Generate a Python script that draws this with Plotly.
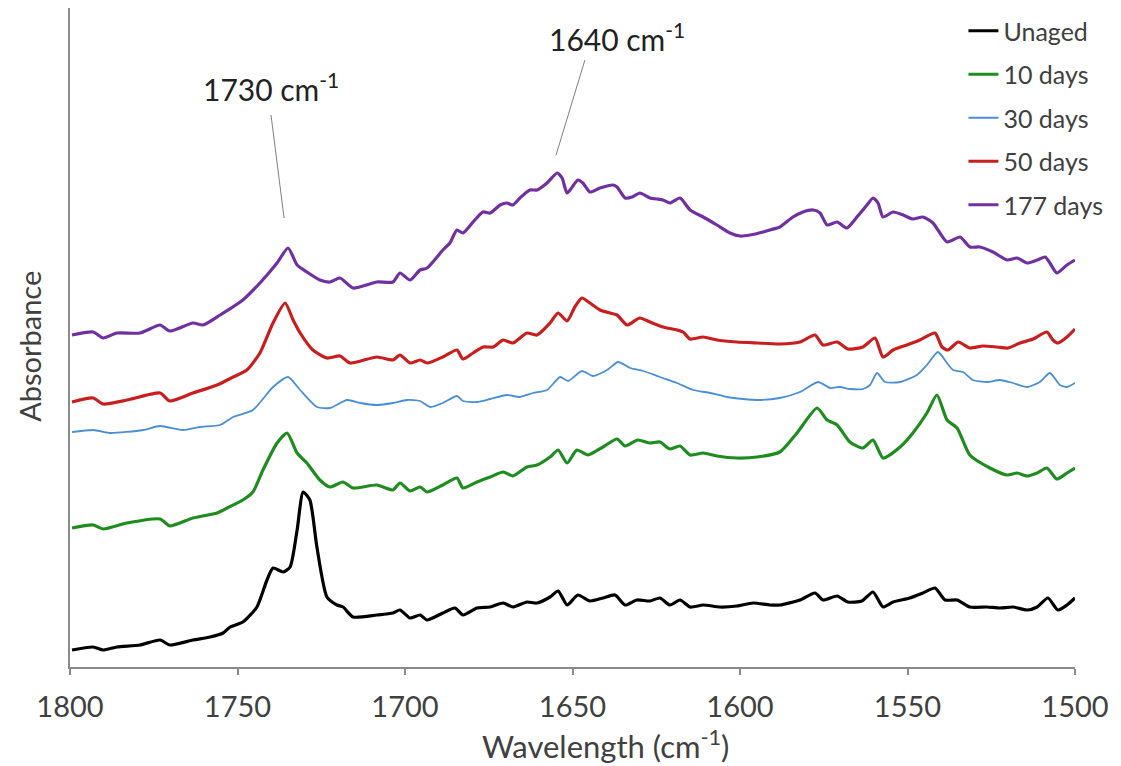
import plotly.graph_objects as go

# FTIR spectra, wavenumber (cm-1) vs absorbance (a.u., offset stacked)
wn_unaged = [1799.4, 1793.1, 1790.1, 1786.0, 1779.1, 1773.1, 1770.2, 1763.3, 1758.2, 1754.3,
             1752.2, 1748.4, 1744.2, 1741.2, 1739.4, 1736.4, 1734.3, 1732.2, 1730.4, 1728.4,
             1726.3, 1723.3, 1720.3, 1718.5, 1715.5, 1708.4, 1703.6, 1701.5, 1698.5, 1695.5,
             1693.4, 1688.7, 1685.1, 1682.7, 1678.5, 1674.6, 1670.7, 1667.8, 1663.6, 1660.6,
             1656.7, 1654.3, 1651.6, 1648.4, 1644.8, 1640.9, 1637.3, 1634.3, 1630.8, 1626.9,
             1623.9, 1620.9, 1617.9, 1614.9, 1611.0, 1606.0, 1600.9, 1596.1, 1591.1, 1588.1,
             1582.1, 1577.6, 1575.2, 1571.0, 1567.8, 1563.6, 1560.3, 1557.3, 1554.3, 1549.3,
             1545.4, 1541.8, 1538.8, 1535.2, 1531.4, 1526.3, 1522.4, 1518.5, 1514.3, 1511.3,
             1508.1, 1505.1, 1502.4, 1500.0]
abs_unaged = [0.017, 0.020, 0.017, 0.020, 0.022, 0.027, 0.022, 0.027, 0.030, 0.034,
              0.040, 0.045, 0.060, 0.087, 0.099, 0.095, 0.100, 0.137, 0.175, 0.167,
              0.120, 0.070, 0.062, 0.060, 0.050, 0.052, 0.054, 0.057, 0.049, 0.052,
              0.047, 0.054, 0.059, 0.052, 0.059, 0.060, 0.064, 0.060, 0.065, 0.064,
              0.070, 0.076, 0.062, 0.072, 0.066, 0.069, 0.072, 0.062, 0.067, 0.066,
              0.069, 0.062, 0.067, 0.060, 0.062, 0.060, 0.061, 0.064, 0.062, 0.062,
              0.067, 0.074, 0.067, 0.071, 0.065, 0.066, 0.075, 0.060, 0.065, 0.069,
              0.074, 0.079, 0.067, 0.067, 0.060, 0.060, 0.059, 0.060, 0.057, 0.060,
              0.069, 0.057, 0.062, 0.069]

wn_10d = [1799.4, 1793.1, 1790.1, 1783.0, 1773.1, 1770.2, 1763.3, 1756.1, 1753.1, 1748.4,
          1745.4, 1742.4, 1738.2, 1735.2, 1732.2, 1729.3, 1725.4, 1722.4, 1718.5, 1715.5,
          1708.4, 1703.6, 1701.5, 1698.5, 1695.5, 1693.4, 1688.7, 1684.5, 1682.7, 1678.5,
          1674.6, 1670.7, 1667.8, 1663.6, 1660.6, 1656.7, 1654.3, 1651.6, 1648.7, 1645.4,
          1640.9, 1636.7, 1634.3, 1630.5, 1626.9, 1623.9, 1620.9, 1617.9, 1614.9, 1611.0,
          1606.9, 1600.9, 1594.9, 1588.1, 1583.0, 1577.0, 1574.0, 1571.0, 1567.2, 1563.3,
          1560.3, 1557.3, 1552.2, 1548.4, 1544.2, 1541.2, 1538.2, 1535.2, 1531.4, 1525.4,
          1520.3, 1517.3, 1514.3, 1511.3, 1508.4, 1505.4, 1502.4, 1500.0]
abs_10d = [0.139, 0.142, 0.138, 0.144, 0.148, 0.141, 0.149, 0.154, 0.159, 0.167,
           0.175, 0.197, 0.224, 0.234, 0.214, 0.204, 0.187, 0.180, 0.185, 0.179,
           0.182, 0.177, 0.184, 0.176, 0.180, 0.175, 0.182, 0.189, 0.179, 0.185,
           0.190, 0.195, 0.191, 0.200, 0.202, 0.210, 0.217, 0.204, 0.217, 0.212,
           0.220, 0.228, 0.221, 0.227, 0.224, 0.225, 0.218, 0.221, 0.212, 0.214,
           0.211, 0.209, 0.210, 0.215, 0.234, 0.259, 0.247, 0.242, 0.225, 0.219,
           0.227, 0.209, 0.220, 0.234, 0.254, 0.272, 0.247, 0.239, 0.212, 0.199,
           0.192, 0.194, 0.191, 0.194, 0.199, 0.188, 0.194, 0.199]

wn_30d = [1799.4, 1793.1, 1788.1, 1778.2, 1773.1, 1766.3, 1761.2, 1755.2, 1751.3, 1745.4,
          1739.4, 1734.9, 1731.3, 1726.3, 1722.4, 1717.3, 1713.4, 1708.4, 1703.6, 1699.4,
          1695.5, 1692.5, 1688.7, 1684.5, 1682.7, 1678.5, 1674.6, 1669.6, 1665.7, 1661.8,
          1657.6, 1653.7, 1651.3, 1647.2, 1643.9, 1639.7, 1636.4, 1632.8, 1628.9, 1623.9,
          1618.8, 1614.0, 1608.9, 1603.9, 1599.1, 1594.0, 1588.1, 1582.1, 1576.7, 1573.1,
          1570.2, 1567.2, 1563.3, 1561.2, 1559.1, 1556.7, 1552.2, 1547.2, 1544.2, 1540.9,
          1538.2, 1536.4, 1533.4, 1530.5, 1526.3, 1522.4, 1518.5, 1514.3, 1510.5, 1507.5,
          1504.5, 1502.4, 1500.0]
abs_30d = [0.235, 0.237, 0.234, 0.237, 0.241, 0.237, 0.240, 0.242, 0.250, 0.257,
           0.280, 0.290, 0.277, 0.260, 0.259, 0.267, 0.264, 0.262, 0.264, 0.267,
           0.266, 0.260, 0.264, 0.271, 0.266, 0.265, 0.268, 0.272, 0.270, 0.274,
           0.277, 0.290, 0.286, 0.296, 0.291, 0.297, 0.305, 0.299, 0.296, 0.290,
           0.284, 0.277, 0.274, 0.270, 0.268, 0.267, 0.269, 0.275, 0.285, 0.279,
           0.280, 0.278, 0.278, 0.282, 0.294, 0.285, 0.285, 0.292, 0.302, 0.315,
           0.304, 0.297, 0.295, 0.287, 0.285, 0.287, 0.284, 0.280, 0.285, 0.294,
           0.282, 0.280, 0.284]

wn_50d = [1799.4, 1793.1, 1790.1, 1783.0, 1773.1, 1770.2, 1763.3, 1756.1, 1751.3, 1747.2,
          1743.3, 1739.4, 1735.8, 1733.4, 1731.3, 1727.5, 1723.3, 1719.4, 1716.4, 1708.4,
          1703.6, 1701.5, 1698.5, 1695.5, 1693.4, 1688.7, 1684.5, 1682.7, 1679.7, 1676.7,
          1673.7, 1670.7, 1667.8, 1663.6, 1660.6, 1656.7, 1654.3, 1651.6, 1649.3, 1647.2,
          1644.8, 1641.8, 1638.8, 1636.7, 1633.7, 1629.9, 1626.9, 1623.0, 1618.8, 1617.0,
          1614.9, 1611.0, 1606.9, 1600.9, 1594.9, 1588.1, 1582.1, 1577.6, 1575.2, 1571.0,
          1567.8, 1563.3, 1559.7, 1557.3, 1554.3, 1550.2, 1546.3, 1541.8, 1539.7, 1537.9,
          1534.9, 1531.4, 1527.5, 1523.3, 1520.0, 1516.4, 1512.5, 1508.4, 1506.6, 1505.1,
          1502.4, 1500.0]
abs_50d = [0.265, 0.269, 0.263, 0.267, 0.274, 0.266, 0.274, 0.282, 0.290, 0.297,
           0.314, 0.344, 0.364, 0.347, 0.334, 0.317, 0.309, 0.311, 0.304, 0.310,
           0.307, 0.312, 0.304, 0.307, 0.304, 0.310, 0.317, 0.308, 0.314, 0.320,
           0.320, 0.327, 0.324, 0.334, 0.332, 0.344, 0.354, 0.346, 0.360, 0.369,
           0.364, 0.357, 0.354, 0.352, 0.342, 0.349, 0.345, 0.340, 0.337, 0.335,
           0.328, 0.330, 0.327, 0.325, 0.324, 0.323, 0.325, 0.332, 0.322, 0.325,
           0.318, 0.320, 0.329, 0.310, 0.317, 0.322, 0.327, 0.334, 0.320, 0.317,
           0.325, 0.319, 0.321, 0.320, 0.319, 0.324, 0.328, 0.335, 0.327, 0.324,
           0.330, 0.338]

wn_177d = [1799.4, 1793.1, 1790.1, 1786.0, 1779.1, 1773.1, 1770.2, 1763.3, 1760.3, 1755.2,
           1748.4, 1743.3, 1738.2, 1734.9, 1732.2, 1729.3, 1725.4, 1722.4, 1719.4, 1715.5,
           1708.4, 1703.6, 1701.5, 1698.5, 1695.5, 1693.4, 1688.7, 1686.6, 1684.5, 1682.7,
           1679.7, 1676.7, 1674.6, 1671.6, 1669.6, 1667.8, 1665.7, 1662.7, 1660.6, 1657.6,
           1654.6, 1653.1, 1651.6, 1648.4, 1646.9, 1644.8, 1641.8, 1637.9, 1636.7, 1634.3,
           1632.2, 1629.9, 1626.9, 1624.8, 1623.0, 1620.9, 1617.9, 1614.9, 1611.0, 1606.9,
           1603.0, 1600.0, 1597.0, 1593.1, 1591.1, 1588.1, 1584.2, 1581.2, 1578.2, 1576.1,
           1574.0, 1571.0, 1568.1, 1565.1, 1562.1, 1560.3, 1558.8, 1557.3, 1554.3, 1551.3,
           1548.4, 1545.4, 1542.4, 1538.2, 1534.3, 1531.4, 1528.4, 1524.5, 1520.3, 1517.3,
           1514.3, 1511.3, 1508.9, 1507.5, 1505.4, 1502.4, 1500.0]
abs_177d = [0.332, 0.335, 0.329, 0.334, 0.334, 0.342, 0.336, 0.344, 0.342, 0.352,
            0.367, 0.384, 0.404, 0.419, 0.402, 0.395, 0.387, 0.385, 0.389, 0.379,
            0.385, 0.385, 0.394, 0.387, 0.397, 0.399, 0.417, 0.424, 0.437, 0.434,
            0.445, 0.455, 0.454, 0.462, 0.464, 0.462, 0.469, 0.477, 0.477, 0.484,
            0.494, 0.489, 0.474, 0.487, 0.484, 0.475, 0.479, 0.482, 0.480, 0.469,
            0.470, 0.474, 0.469, 0.468, 0.467, 0.464, 0.469, 0.457, 0.450, 0.442,
            0.434, 0.431, 0.432, 0.435, 0.437, 0.440, 0.450, 0.455, 0.457, 0.454,
            0.442, 0.445, 0.439, 0.450, 0.462, 0.469, 0.464, 0.450, 0.455, 0.452,
            0.448, 0.450, 0.444, 0.425, 0.430, 0.420, 0.420, 0.415, 0.407, 0.409,
            0.404, 0.407, 0.410, 0.404, 0.394, 0.402, 0.407]

series = [
    ("Unaged", wn_unaged, abs_unaged, "#000000", 3.2),
    ("10 days", wn_10d, abs_10d, "#1E8C1E", 3.2),
    ("30 days", wn_30d, abs_30d, "#4A8FD4", 1.8),
    ("50 days", wn_50d, abs_50d, "#C81E1E", 3.2),
    ("177 days", wn_177d, abs_177d, "#7030A0", 3.2),
]

FONT = "Lato, 'Open Sans', sans-serif"
TXT = "#404040"

fig = go.Figure()
for name, wn, ab, color, w in series:
    fig.add_trace(go.Scatter(
        x=wn, y=ab, mode='lines', name=name, legendgroup=name,
        line=dict(color=color, width=w, shape='spline', smoothing=0.6),
    ))

# peak labels with leader lines
fig.add_shape(type="line", x0=1740.0, y0=0.552, x1=1736.1, y1=0.449,
              line=dict(color="#808080", width=1))
fig.add_shape(type="line", x0=1646.3, y0=0.607, x1=1654.9, y1=0.512,
              line=dict(color="#808080", width=1))
fig.add_annotation(x=1740.0, y=0.580, text="1730 cm<sup>-1</sup>", showarrow=False,
                   font=dict(family=FONT, size=30, color="#222222"))
fig.add_annotation(x=1636.7, y=0.630, text="1640 cm<sup>-1</sup>", showarrow=False,
                   font=dict(family=FONT, size=30, color="#222222"))

# axis titles (placed as in the original, slightly off-centre)
fig.add_annotation(xref="paper", yref="paper", x=0.533, y=-0.118,
                   text="Wavelength (cm<sup>-1</sup>)", showarrow=False,
                   xanchor="center", yanchor="middle",
                   font=dict(family=FONT, size=31, color=TXT))
fig.add_annotation(xref="paper", yref="paper", x=-0.041, y=0.487,
                   text="Absorbance", showarrow=False, textangle=-90,
                   xanchor="center", yanchor="middle",
                   font=dict(family=FONT, size=29, color=TXT))

fig.update_xaxes(
    range=[1800, 1500], tickvals=[1800, 1750, 1700, 1650, 1600, 1550, 1500],
    showline=True, linecolor="#8a8a8a", linewidth=1.5,
    ticks="outside", ticklen=6, tickcolor="#8a8a8a", tickwidth=1.5,
    ticklabelstandoff=7, automargin=False,
    showgrid=False, zeroline=False,
    tickfont=dict(family=FONT, size=29, color=TXT),
)
fig.update_yaxes(
    range=[0, 0.659], showticklabels=False, ticks="",
    showline=True, linecolor="#8a8a8a", linewidth=1.5,
    showgrid=False, zeroline=False, automargin=False,
)
fig.update_layout(
    width=1113, height=758,
    margin=dict(l=62, r=46, t=0, b=99),
    plot_bgcolor="white", paper_bgcolor="white",
    showlegend=True,
    legend=dict(x=0.889, y=1.0, xanchor="left", yanchor="top",
                traceorder="grouped", tracegroupgap=8,
                font=dict(family=FONT, size=25, color=TXT),
                bgcolor="rgba(0,0,0,0)"),
)

fig.write_html("out.html")
